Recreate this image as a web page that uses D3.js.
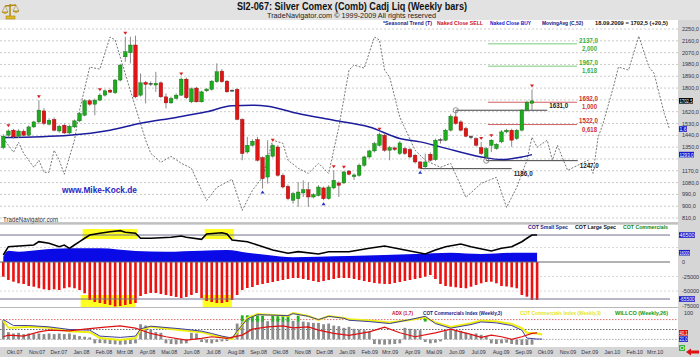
<!DOCTYPE html>
<html><head><meta charset="utf-8">
<script src="https://cdn.jsdelivr.net/npm/d3@7"></script>
<style>
body{margin:0;background:#fff;}
svg{display:block;font-family:"Liberation Sans",Arial,sans-serif;}
</style></head><body>
<svg id="c" width="700" height="357"></svg>
<script>
// ---------- DATA ----------
const open = [1347,1441,1479,1433,1471,1441,1504,1542,1626,1525, 1561,1473,1517,1458,1504,1550,1593,1703,1677,1708, 1746,1784,1764,1861,2038,2069,2128,1746,1843,1836, 1823,1840,1733,1687,1721,1746,1868,1695,1800,1695, 1779,1790,1848,1929,1853,1784,1790,1561,1313,1364, 1408,1270,1122,1281,1351,1135,1051,945,957,1001, 1026,970,982,1039,957,1039,1077,1077,1168,1125, 1135,1212,1275,1321,1364,1441,1326,1344,1301,1339, 1332,1288,1237,1200,1296,1255,1408,1403,1479,1581, 1542,1492,1433,1415,1347,1275,1364,1339,1390,1466, 1479,1415,1479,1632,1684];
const high = [1448,1486,1490,1485,1485,1515,1550,1708,1647,1570, 1575,1520,1530,1520,1560,1615,1715,1715,1720,1760, 1790,1795,1870,1985,2191,2191,2199,1912,1855,1850, 1924,1850,1759,1735,1760,1880,1880,1805,1810,1780, 1800,1860,1988,1945,1860,1790,1800,1570,1428,1410, 1428,1280,1403,1375,1365,1150,1065,1010,1084,1097, 1084,1000,1060,1050,1060,1174,1090,1170,1175,1150, 1225,1285,1330,1390,1460,1455,1360,1355,1395,1350, 1345,1300,1245,1301,1310,1415,1420,1490,1600,1631, 1555,1505,1440,1425,1390,1350,1410,1380,1480,1490, 1490,1490,1640,1705,1790];
const low = [1334,1425,1415,1420,1430,1430,1495,1525,1517,1515, 1470,1460,1450,1450,1495,1540,1585,1665,1593,1700, 1735,1760,1755,1850,2000,1988,1723,1735,1683,1815, 1771,1725,1645,1680,1715,1740,1715,1685,1690,1690, 1770,1780,1840,1840,1765,1770,1555,1250,1300,1355, 1240,1034,1072,1270,1125,1035,945,919,894,970, 894,960,975,945,950,1030,970,1070,1135,1100, 1125,1200,1265,1310,1355,1315,1250,1320,1290,1290, 1265,1225,1186,1190,1240,1245,1377,1395,1470,1520, 1470,1425,1410,1355,1290,1247,1313,1330,1380,1455, 1352,1405,1470,1620,1632];
const close = [1433,1473,1428,1473,1441,1504,1542,1632,1530,1555, 1479,1509,1458,1509,1550,1606,1703,1677,1708,1746, 1779,1769,1861,1975,2077,2128,1733,1840,1828,1828, 1836,1733,1687,1721,1746,1868,1726,1794,1695,1771, 1792,1853,1924,1848,1771,1777,1561,1301,1364,1395, 1250,1110,1288,1364,1135,1046,957,996,1008,1026, 970,988,1046,957,1046,1097,1059,1161,1143,1138, 1212,1275,1321,1377,1446,1326,1347,1332,1382,1301, 1275,1237,1190,1237,1250,1403,1403,1479,1586,1530, 1479,1433,1423,1364,1301,1339,1403,1372,1466,1479, 1403,1479,1632,1692,1702.5];

const sellIdx = [1,7,19,24,35,53,65,67,74,94,96,104];
const buyIdx = [51,63,82];

const maIdx = [0,13,21,27,34,40,45,49,52,58,65,72,78,82,86,94,98,102,104];
const maVal = [1423,1441,1479,1532,1576,1619,1666,1670,1662,1606,1555,1504,1416,1390,1352,1275,1255,1275,1293];

const seasIdx = [0,2,3,4,6,7,8,9,10,11,12,14,15,17,19,21,22,23,26,28,29,31,33,35,37,39,40,42,45,47,49,51,53,55,56,58,60,62,64,66,68,69,71,73,74,75,76,78,81,83,86,88,91,94,97,99,101,103,104,105,107,108,109,111,115,116,117,118,120,121,123,125,127,128,130,131];
const seasVal = [1418,1311,1387,1303,1196,1250,1158,1158,1326,1250,1143,1403,1631,1960,1944,2189,2166,2036,1654,1403,1303,1234,1280,1227,1189,1021,944,1043,1105,868,1021,1120,1403,1379,1250,1189,1150,1227,1150,1502,1937,1975,1952,2189,2166,1937,1883,1578,1326,1250,1196,1227,967,1074,1120,891,1043,1250,1425,1349,1403,1250,1364,1173,1250,1150,1425,1532,1807,1960,1937,2196,1960,1914,1608,1494];

const priceTicks = [2250,2160,2070,1980,1890,1800,1710,1620,1530,1440,1350,1260,1170,1080,990,900,810];

const fibVal = [2137,1967,1692,1522];
const fibRatio = ["2,000","1,618","1,000","0,618"];
const swingVal = [1631,1247,1186];
const swingFrom = [89,95,82];
const swingTo = [107,113,100];

// COT
const largeIdx = [0,1,6,7,9,11,12,13,14,15,16,17,19,21,23,24,26,27,29,33,35,36,39,40,43,44,45,48,50,53,56,58,62,64,68,72,75,79,83,85,87,90,92,96,98,100,102,103,104,105];
const largeVal = [12000,26400,29300,35000,32200,26400,29300,23600,29300,35000,40900,46500,49500,52200,54000,51200,49500,40900,40900,42600,44800,42600,39100,48300,50500,48300,37900,35000,29300,20700,15000,17800,13800,17800,17800,23600,27600,20700,13800,20700,26400,31000,26400,19000,23600,26400,35000,40900,46500,46500];
const smallIdx = [0,1,3,7,13,19,26,32,39,44,48,52,57,62,68,75,81,88,94,101,105];
const smallVal = [9100,19500,17800,20700,23600,23600,19000,17800,19500,20700,16000,12100,8100,9100,10300,12100,13800,16000,13800,16000,16000];
const comm = [-25300,-31000,-34000,-36700,-37900,-41400,-42600,-45300,-47100,-48300, -47100,-48300,-45300,-43600,-45300,-48300,-54000,-65500,-69000,-70700, -72400,-74100,-76700,-75900,-74100,-72400,-70700,-58600,-55200,-53400, -53400,-55200,-56900,-58600,-60300,-62100,-60300,-56900,-53400,-62100, -67200,-69000,-70700,-70700,-69000,-65500,-56900,-48300,-44800,-43100, -39700,-37900,-36200,-34500,-32800,-31000,-29300,-27600,-27600,-29300, -31000,-32800,-34500,-32800,-31000,-29300,-27600,-27600,-27600,-29300, -31000,-32800,-34500,-36200,-37100,-37900,-37900,-36200,-34500,-32800, -31000,-29300,-27600,-25300,-22400,-29300,-37900,-41400,-42600,-43600, -44800,-45300,-42600,-39700,-36700,-34500,-34000,-36700,-41400,-42200, -43600,-45300,-56900,-59800,-65500,-65500];
const cotTicks = [25000,0,-25000,-50000,-75000];
const cotLevels = [46500,-63800];
const hiZones = [[16,26],[40,45]];

// Indicators
const adxIdx = [0,1,4,7,9,13,16,20,23,26,29,32,36,39,41,44,47,49,52,55,57,60,62,65,68,72,75,78,81,85,88,90,92,94,96,98,100,102,104,105];
const adxVal = [28,33,30,43,48,46,51,57,61,54,38,28,18,23,28,23,33,51,58,61,55,58,48,38,32,43,57,40,28,40,51,43,35,26,33,28,20,28,38,40];
const ciyIdx = [0,1,2,5,9,13,17,19,23,26,27,29,35,39,41,43,45,46,48,50,56,57,60,62,64,67,68,72,76,80,83,85,88,92,94,97,100,102,103,105,106];
const ciyVal = [76,56,55,58,55,45,42,24,18,24,48,58,48,42,33,27,21,42,85,97,91,100,91,79,91,85,81,77,71,79,87,71,58,69,77,74,67,54,40,38,35];
const cinIdx = [0,2,5,9,13,17,19,23,26,27,29,35,39,41,43,45,46,48,50,56,57,60,62,64,67,68,72,76,80,83,85,88,92,94,97,100,102,103,105,106];
const cinVal = [80,62,62,58,50,48,30,26,30,52,60,52,45,38,30,24,45,82,95,92,98,90,80,90,84,78,74,68,80,90,68,54,65,73,70,62,48,24,21,21];
const grayBars = [78,42,38,40,36,38,36,38,36,38, 36,38,36,38,34,30,28,26,8,9, 8,6,5,4,5,6,8,66,62,50, 42,40,8,6,5,7,8,40,38,12, 10,8,12,14,15,28,68,72,75,76, 76,78,75,76,78,76,78,76,75,74, 72,70,70,66,68,62,60,55,58,52, 50,48,45,6,5,4,5,6,8,55, 52,50,48,12,8,10,14,45,50,48, 46,40,36,38,34,30,8,6,8,10, 6,4,3,3,4];
const willIdx = [47,48,49,50,51,53,54,55,56,58,83];
const willVal = [93,93,92,93,92,93,92,92,93,92,88];
const indLevels = [80,50,20];

const monthLabels = ["Okt.07","Nov.07","Dez.07","Jan.08","Feb.08","Mrz.08","Apr.08","Mai.08","Jun.08","Jul.08","Aug.08","Sep.08","Okt.08","Nov.08","Dez.08","Jan.09","Feb.09","Mrz.09","Apr.09","Mai.09","Jun.09","Jul.09","Aug.09","Sep.09","Okt.09","Nov.09","Dez.09","Jan.10","Feb.10","Mrz.10"];
const monthDates = ["2007-10","2007-11","2007-12","2008-01","2008-02","2008-03","2008-04","2008-05","2008-06","2008-07","2008-08","2008-09","2008-10","2008-11","2008-12","2009-01","2009-02","2009-03","2009-04","2009-05","2009-06","2009-07","2009-08","2009-09","2009-10","2009-11","2009-12","2010-01","2010-02","2010-03"];

// ---------- CHART ----------
const svg = d3.select('#c');
const xI = d3.scaleLinear().domain([0,104]).range([3.3,532]);
const xT = d3.scaleTime().domain([new Date(2007,8,21), new Date(2009,8,18)]).range([3.3,532]);
const yP = d3.scaleLinear().domain([810,2250]).range([218,29]);
const yC = d3.scaleLinear().domain([-75000,25000]).range([305.5,247.5]);
const yI = d3.scaleLinear().domain([0,100]).range([346,313]);
const PR = 678;

function txt(x,y,s,o){
  o=o||{};
  const t=svg.append('text').attr('x',x).attr('y',y).text(s)
    .attr('font-size',o.size||6).attr('fill',o.fill||'#000');
  if(o.bold) t.attr('font-weight','bold');
  if(o.len) t.attr('textLength',o.len).attr('lengthAdjust','spacingAndGlyphs');
  if(o.anchor) t.attr('text-anchor',o.anchor);
  return t;
}

// backgrounds
svg.append('rect').attr('width',700).attr('height',357).attr('fill','#d6d6d6');
svg.append('rect').attr('width',700).attr('height',20).attr('fill','#e2e2e2');
[[20,222],[225,307],[308,347]].forEach(([a,b])=>
  svg.append('rect').attr('x',0).attr('y',a).attr('width',PR).attr('height',b-a).attr('fill','#fff'));

// logo
const lg = svg.append('g').attr('transform','translate(2,2)');
lg.append('path').attr('d','M8 2 L8 14 M3 4 L14 3 M5 15 L11 15').attr('stroke','#b08a10').attr('stroke-width',1.5).attr('fill','none');
lg.append('path').attr('d','M0 10 Q3 13 6 10 Z M11 9 Q14 12 17 9 Z').attr('fill','#e8c030').attr('stroke','#a07a00').attr('stroke-width',0.6);
lg.append('path').attr('d','M3 4 L0 10 M3 4 L6 10 M14 3 L11 9 M14 3 L17 9').attr('stroke','#a07a00').attr('stroke-width',0.5);
lg.append('rect').attr('x',4).attr('y',14).attr('width',9).attr('height',3).attr('fill','#e0b828').attr('stroke','#a07a00').attr('stroke-width',0.5);

// title
txt(237,9.5,'SI2-067:  Silver Comex (Comb) Cadj Liq  (Weekly bars)',{size:10,bold:true,len:230,fill:'#111'});
txt(267,18.2,'TradeNavigator.com \u00a9 1999-2009 All rights reserved',{size:7.5,len:169,fill:'#222'});

// value boxes (positions first, so tick labels under them are hidden as in the reference)
const mainBoxY = [yP(close[104]),129,yP(maVal[maVal.length-1])];

// main grid
svg.append('g').selectAll('line').data(priceTicks).join('line')
  .attr('x1',0).attr('x2',PR).attr('y1',d=>yP(d)).attr('y2',d=>yP(d))
  .attr('stroke','#bdbdbd').attr('stroke-width',0.8).attr('stroke-dasharray','2,2');
svg.append('g').selectAll('text').data(priceTicks.filter(d=>mainBoxY.every(b=>Math.abs(yP(d)-b)>5))).join('text')
  .attr('x',682).attr('y',d=>yP(d)+2).text(d=>d3.format('.1f')(d).replace('.',','))
  .attr('font-size',5.5).attr('fill','#334');

// seasonal trend
const seasLine = d3.line().x((d,k)=>xI(seasIdx[k])).y(d=>yP(d));
svg.append('path').attr('d',seasLine(seasVal)).attr('fill','none')
  .attr('stroke','#777').attr('stroke-width',1).attr('stroke-dasharray','2,1.5');

// fib lines
const fibCol = ['#7ccc7c','#7ccc7c','#d06060','#d06060'];
const fibTxt = ['#3db03d','#3db03d','#d03030','#d03030'];
fibVal.forEach((v,k)=>{
  svg.append('line').attr('x1',488).attr('x2',577).attr('y1',yP(v)).attr('y2',yP(v)).attr('stroke',fibCol[k]).attr('stroke-width',1);
  txt(579,yP(v)-1.3,d3.format('.1f')(v).replace('.',','),{size:6.3,bold:true,fill:fibTxt[k],len:19});
  txt(582,yP(v)+7,fibRatio[k],{size:6.3,bold:true,fill:fibTxt[k],len:15});
});
// swing lines
const swTxtDy=[-2,7,7];
swingVal.forEach((v,k)=>{
  const x1=xI(swingFrom[k]), x2=xI(swingTo[k]);
  svg.append('line').attr('x1',x1).attr('x2',x2).attr('y1',yP(v)).attr('y2',yP(v)).attr('stroke','#444').attr('stroke-width',1);
  txt(x2+2,yP(v)+swTxtDy[k],d3.format('.1f')(v).replace('.',','),{size:6.3,bold:true,fill:'#222',len:19});
});
[0,1].forEach(k=>svg.append('circle').attr('cx',xI(swingFrom[k])).attr('cy',yP(swingVal[k])).attr('r',2.6)
  .attr('fill','none').attr('stroke','#777').attr('stroke-width',0.8));

// moving average
const maLine = d3.line().x((d,k)=>xI(maIdx[k])).y(d=>yP(d)).curve(d3.curveMonotoneX);
svg.append('path').attr('d',maLine(maVal)).attr('fill','none').attr('stroke','#1c1c9c').attr('stroke-width',1.5);

// candles
const cd = open.map((o,i)=>({i,o,h:high[i],l:low[i],c:close[i]}));
const cg = svg.append('g');
cg.selectAll('line').data(cd).join('line')
  .attr('x1',d=>xI(d.i)).attr('x2',d=>xI(d.i)).attr('y1',d=>yP(d.h)).attr('y2',d=>yP(d.l))
  .attr('stroke','#8a8a8a').attr('stroke-width',1);
cg.selectAll('rect').data(cd).join('rect')
  .attr('x',d=>xI(d.i)-1.8).attr('width',3.6)
  .attr('y',d=>yP(Math.max(d.o,d.c))).attr('height',d=>Math.max(1,Math.abs(yP(d.o)-yP(d.c))))
  .attr('fill',d=>Math.abs(d.c-d.o)<=10?'#555':(d.c>d.o?'#1faa1f':'#e01515'))
  .attr('stroke',d=>Math.abs(d.c-d.o)<=10?'#333':(d.c>d.o?'#0b6a0b':'#8a0a0a')).attr('stroke-width',0.4);
// markers
svg.append('g').selectAll('path').data(sellIdx).join('path')
  .attr('d',i=>{const x=xI(i),y=yP(high[i])-2;return `M${x-2},${y-3}L${x+2},${y-3}L${x},${y}Z`;})
  .attr('fill','#dd2020');
svg.append('g').selectAll('path').data(buyIdx).join('path')
  .attr('d',i=>{const x=xI(i),y=yP(low[i])+2;return `M${x-2},${y+3}L${x+2},${y+3}L${x},${y}Z`;})
  .attr('fill','#2233cc');

// main legend
txt(383,24.6,'*Seasonal Trend (T)',{size:5.6,bold:true,fill:'#1a1a8a',len:49});
txt(437,24.6,'Naked Close SELL',{size:5.6,bold:true,fill:'#cc1111',len:46});
txt(490,24.6,'Naked Close BUY',{size:5.6,bold:true,fill:'#1111cc',len:41});
txt(542,24.6,'MovingAvg (C,52)',{size:5.6,bold:true,fill:'#10107a',len:41});
txt(595,24.6,'18.09.2009 = 1702,5 (+20,5)',{size:5.6,bold:true,fill:'#111',len:73});

txt(62,192.5,'www.Mike-Kock.de',{size:9,bold:true,fill:'#2626c4',len:75});
txt(3,221.5,'TradeNavigator.com',{size:6.5,fill:'#333',len:55});

// axis value boxes main
function box(x,y,w,s,bg,fg){
  svg.append('rect').attr('x',x).attr('y',y-2.8).attr('width',w).attr('height',5.6).attr('fill',bg);
  txt(x+0.5,y+2,s,{size:5.2,fill:fg||'#fff',len:w-1});
}
box(679,mainBoxY[0],14,'1702,5','#000');
box(679,mainBoxY[1],8,'1,6','#1a1acc');
box(679,mainBoxY[2],15,'1293,0','#1a1acc');

// separators
svg.append('rect').attr('x',0).attr('y',222.5).attr('width',PR).attr('height',1.2).attr('fill','#b8b8b8');

// ---------- COT panel ----------
svg.append('g').selectAll('line').data([25000,-25000,-50000]).join('line')
  .attr('x1',0).attr('x2',PR).attr('y1',d=>yC(d)).attr('y2',d=>yC(d))
  .attr('stroke','#c8c8c8').attr('stroke-width',0.7).attr('stroke-dasharray','2,2');
hiZones.forEach(([a,b])=>{
  svg.append('rect').attr('x',xI(a)-2).attr('width',xI(b)-xI(a)+4).attr('y',229).attr('height',10).attr('fill','#ffff22');
  svg.append('rect').attr('x',xI(a)-4).attr('width',xI(b)-xI(a)+4).attr('y',295).attr('height',12).attr('fill','#ffff22');
});
// small spec area
const area = d3.area().x((d,k)=>xI(smallIdx[k])).y0(yC(0)).y1(d=>yC(d)).curve(d3.curveMonotoneX);
svg.append('path').attr('d',area(smallVal)).attr('fill','#0a0ae6');
// commercials bars
svg.append('g').selectAll('rect').data(comm).join('rect')
  .attr('x',(d,i)=>xI(i)-1.3).attr('width',2.6)
  .attr('y',yC(0)).attr('height',d=>yC(d)-yC(0)).attr('fill','#ee1111');
// level lines
svg.append('line').attr('x1',0).attr('x2',670).attr('y1',yC(0)).attr('y2',yC(0)).attr('stroke','#666').attr('stroke-width',1);
cotLevels.forEach(v=>svg.append('line').attr('x1',0).attr('x2',670).attr('y1',yC(v)).attr('y2',yC(v)).attr('stroke','#707090').attr('stroke-width',1));
// large spec line
const lsLine = d3.line().x((d,k)=>xI(largeIdx[k])).y(d=>yC(d));
svg.append('path').attr('d',lsLine(largeVal)).attr('fill','none').attr('stroke','#000').attr('stroke-width',1.6);
// cot legend
txt(528,229,'COT Small Spec',{size:5.6,bold:true,fill:'#1a1a8a',len:40});
txt(575,229,'COT Large Spec',{size:5.6,bold:true,fill:'#111',len:41});
txt(623,229,'COT Commercials',{size:5.6,bold:true,fill:'#118811',len:45});
// cot axis
const cotBoxY = [yC(largeVal[largeVal.length-1]), yC(smallVal[smallVal.length-1]), yC(comm[comm.length-1])-1];
svg.append('g').selectAll('text').data(cotTicks.filter(d=>cotBoxY.every(b=>Math.abs(yC(d)-b)>5.5))).join('text')
  .attr('x',682).attr('y',d=>yC(d)+2).text(d=>d)
  .attr('font-size',5.5).attr('fill','#334');
box(679,cotBoxY[0],16,'46500','#1a1acc');
box(679,cotBoxY[1],11,'16000','#1a1acc');
box(679,cotBoxY[2],16,'-65500','#1a1acc');
svg.append('rect').attr('x',0).attr('y',307).attr('width',PR).attr('height',1).attr('fill','#b8b8b8');

// ---------- Indicator panel ----------
const lvCol=['#d44','#444','#999'];
indLevels.forEach((v,k)=>svg.append('line').attr('x1',0).attr('x2',PR).attr('y1',yI(v)).attr('y2',yI(v))
  .attr('stroke',lvCol[k]).attr('stroke-width',0.8).attr('stroke-dasharray','1.5,1.5'));
svg.append('g').selectAll('rect').data(grayBars).join('rect')
  .attr('x',(d,i)=>xI(i)-1.4).attr('width',2.8)
  .attr('y',d=>Math.min(yI(d),yI(20))).attr('height',d=>Math.abs(yI(d)-yI(20)))
  .attr('fill','#8c8c8c');
svg.append('g').selectAll('rect').data(willVal).join('rect')
  .attr('x',(d,k)=>xI(willIdx[k])-1.4).attr('width',2.8)
  .attr('y',d=>yI(d)).attr('height',d=>yI(74)-yI(d)).attr('fill','#22b022');
const lineI = (idx)=>d3.line().x((d,k)=>xI(idx[k])).y(d=>yI(d));
svg.append('path').attr('d',lineI(ciyIdx)(ciyVal)).attr('fill','none').attr('stroke','#eeee10').attr('stroke-width',2);
svg.append('path').attr('d',lineI(cinIdx)(cinVal)).attr('fill','none').attr('stroke','#40409a').attr('stroke-width',1);
svg.append('path').attr('d',lineI(adxIdx)(adxVal)).attr('fill','none').attr('stroke','#dd1111').attr('stroke-width',1.2);
txt(392,314.6,'ADX (1,7)',{size:5.6,bold:true,fill:'#cc1111',len:21});
txt(423,314.6,'COT Commercials Index (Weekly,3)',{size:5.6,bold:true,fill:'#1a1a8a',len:79});
txt(520,314.6,'COT Commercials Index (Weekly,3)',{size:5.6,bold:true,fill:'#e6e61a',len:81});
txt(615,314.6,'WILLCO (Weekly,26)',{size:5.6,bold:true,fill:'#119911',len:53});
txt(684,yI(100)+2,'100',{size:5.5,fill:'#334'});
box(679,yI(adxVal[adxVal.length-1]),9,'40,1','#dd1111');
box(679,yI(cinVal[cinVal.length-1]),9,'21,0','#1a1acc');
box(679,yI(0)+2,6,'0','#22aa22');

// x axis
const pm = d3.timeParse('%Y-%m');
svg.append('g').selectAll('text').data(monthLabels).join('text')
  .attr('x',(d,k)=>xT(pm(monthDates[k]))+4).attr('y',353.5).attr('text-anchor','middle')
  .text(d=>d).attr('font-size',5.3).attr('fill','#334');
// red arrow
svg.append('path').attr('d','M686,352 L691,348.5 L691,350.5 L699,350.5 L699,353.5 L691,353.5 L691,355.5 Z').attr('fill','#dd1111');
</script>
</body></html>
